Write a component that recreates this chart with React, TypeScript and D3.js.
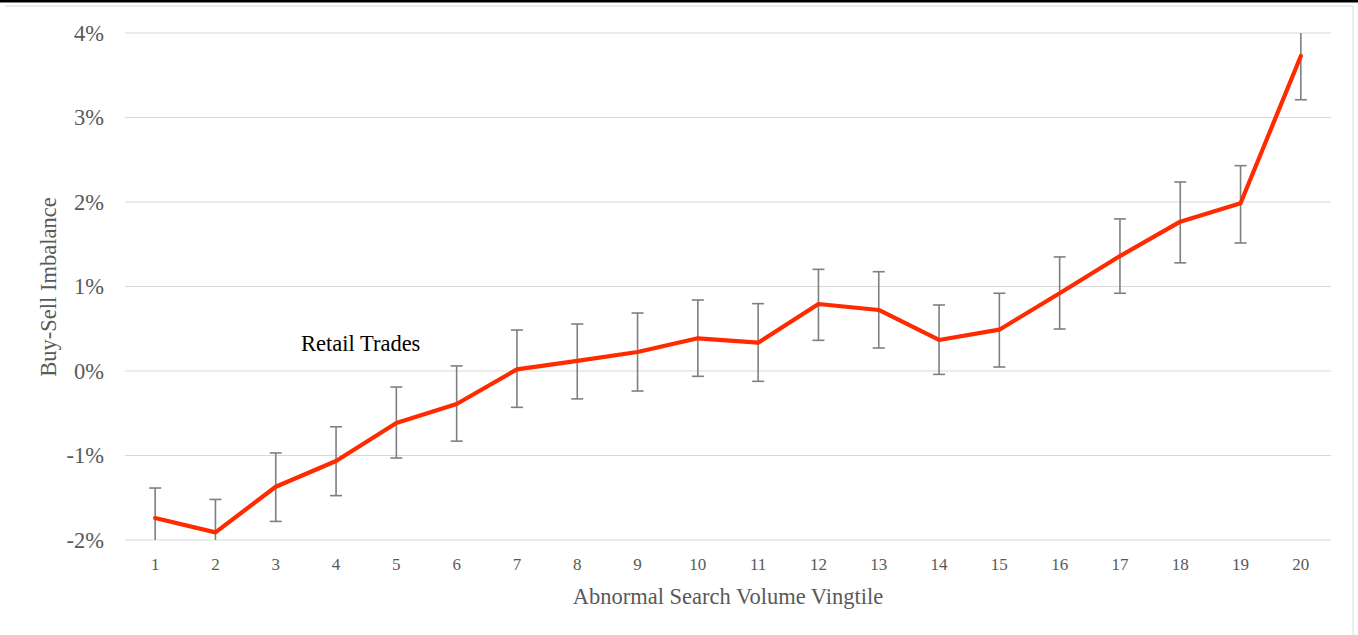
import * as React from "react";
import * as d3 from "d3";

// Vingtile categories 1..20
const vingtiles: string[] = ["1", "2", "3", "4", "5", "6", "7", "8", "9", "10",
    "11", "12", "13", "14", "15", "16", "17", "18", "19", "20"];

// Buy-sell imbalance, in percent
const imbalance: number[] = [-1.74, -1.91, -1.37, -1.065, -0.615, -0.39, 0.02, 0.12, 0.225, 0.387,
    0.335, 0.793, 0.722, 0.367, 0.489, 0.92, 1.36, 1.767, 1.985, 3.728];

// Upper / lower ends of the error bars, in percent
const upperBound: number[] = [-1.385, -1.52, -0.97, -0.66, -0.19, 0.06, 0.485, 0.556, 0.686, 0.84,
    0.797, 1.203, 1.175, 0.781, 0.92, 1.35, 1.80, 2.237, 2.43, 4.24];
const lowerBound: number[] = [-2.09, -2.3, -1.78, -1.475, -1.03, -0.83, -0.43, -0.33, -0.237, -0.063,
    -0.122, 0.363, 0.272, -0.04, 0.047, 0.497, 0.92, 1.28, 1.515, 3.21];

const yTicks: number[] = [-2, -1, 0, 1, 2, 3, 4];

const seriesLabel = "Retail Trades";
const xTitle = "Abnormal Search Volume Vingtile";
const yTitle = "Buy-Sell Imbalance";

export default function App() {
    let width = 1358;
    let height = 635;

    let plotLeft = 125;
    let plotRight = 1331;
    let plotTop = 33;
    let plotBottom = 540;

    let x = d3.scaleBand().domain(vingtiles).range([plotLeft, plotRight]);
    let y = d3.scaleLinear().domain([-2, 4]).range([plotBottom, plotTop]);
    let cx = (c: string) => (x(c) as number) + x.bandwidth() / 2;

    let line = d3.line<number>()
        .x((d, i) => cx(vingtiles[i]))
        .y(d => y(d));

    let textGray = "#595959";
    let font = "'Liberation Serif', 'Times New Roman', serif";
    let capHalf = 6;

    return (
        <svg width={width} height={height} style={{ position: "absolute", left: 0, top: 0, background: "#fff" }}
            fontFamily={font}>
            <defs>
                <clipPath id="plot-clip">
                    <rect x={plotLeft} y={plotTop} width={plotRight - plotLeft} height={plotBottom - plotTop} />
                </clipPath>
            </defs>

            {/* page rule and chart frame */}
            <rect x={0} y={0} width={width} height={2.5} fill="#000" />
            <line x1={5} x2={1353} y1={6} y2={6} stroke="#d9d9d9" strokeWidth={1} />
            <line x1={1353} x2={1353} y1={6} y2={height} stroke="#d9d9d9" strokeWidth={1} />

            {/* gridlines */}
            {yTicks.map(t => (
                <line key={t} x1={plotLeft} x2={plotRight} y1={y(t)} y2={y(t)} stroke="#d9d9d9" strokeWidth={1} />
            ))}

            {/* y tick labels */}
            {yTicks.map(t => (
                <text key={t} x={104} y={y(t)} dy="0.35em" textAnchor="end" fontSize={22.5} fill={textGray}>
                    {t + "%"}
                </text>
            ))}

            {/* x tick labels */}
            {vingtiles.map(c => (
                <text key={c} x={cx(c)} y={570} textAnchor="middle" fontSize={17} fill={textGray}>{c}</text>
            ))}

            {/* error bars */}
            <g clipPath="url(#plot-clip)" stroke="#7f7f7f" strokeWidth={1.6}>
                {vingtiles.map((c, i) => {
                    let xc = cx(c);
                    return (
                        <g key={c}>
                            <line x1={xc} x2={xc} y1={y(upperBound[i])} y2={y(lowerBound[i])} />
                            <line x1={xc - capHalf} x2={xc + capHalf} y1={y(upperBound[i])} y2={y(upperBound[i])} />
                            <line x1={xc - capHalf} x2={xc + capHalf} y1={y(lowerBound[i])} y2={y(lowerBound[i])} />
                        </g>
                    );
                })}
            </g>

            {/* series line */}
            <path d={line(imbalance) as string} fill="none" stroke="#ff2a00" strokeWidth={4.2}
                strokeLinejoin="round" strokeLinecap="round" />

            <text x={301} y={351} fontSize={22.5} fill="#000">{seriesLabel}</text>

            <text x={(plotLeft + plotRight) / 2} y={604} textAnchor="middle" fontSize={22.5} fill={textGray}>{xTitle}</text>
            <text transform={`translate(56, ${287}) rotate(-90)`} textAnchor="middle" fontSize={22.5} fill={textGray}>{yTitle}</text>
        </svg>
    );
}
